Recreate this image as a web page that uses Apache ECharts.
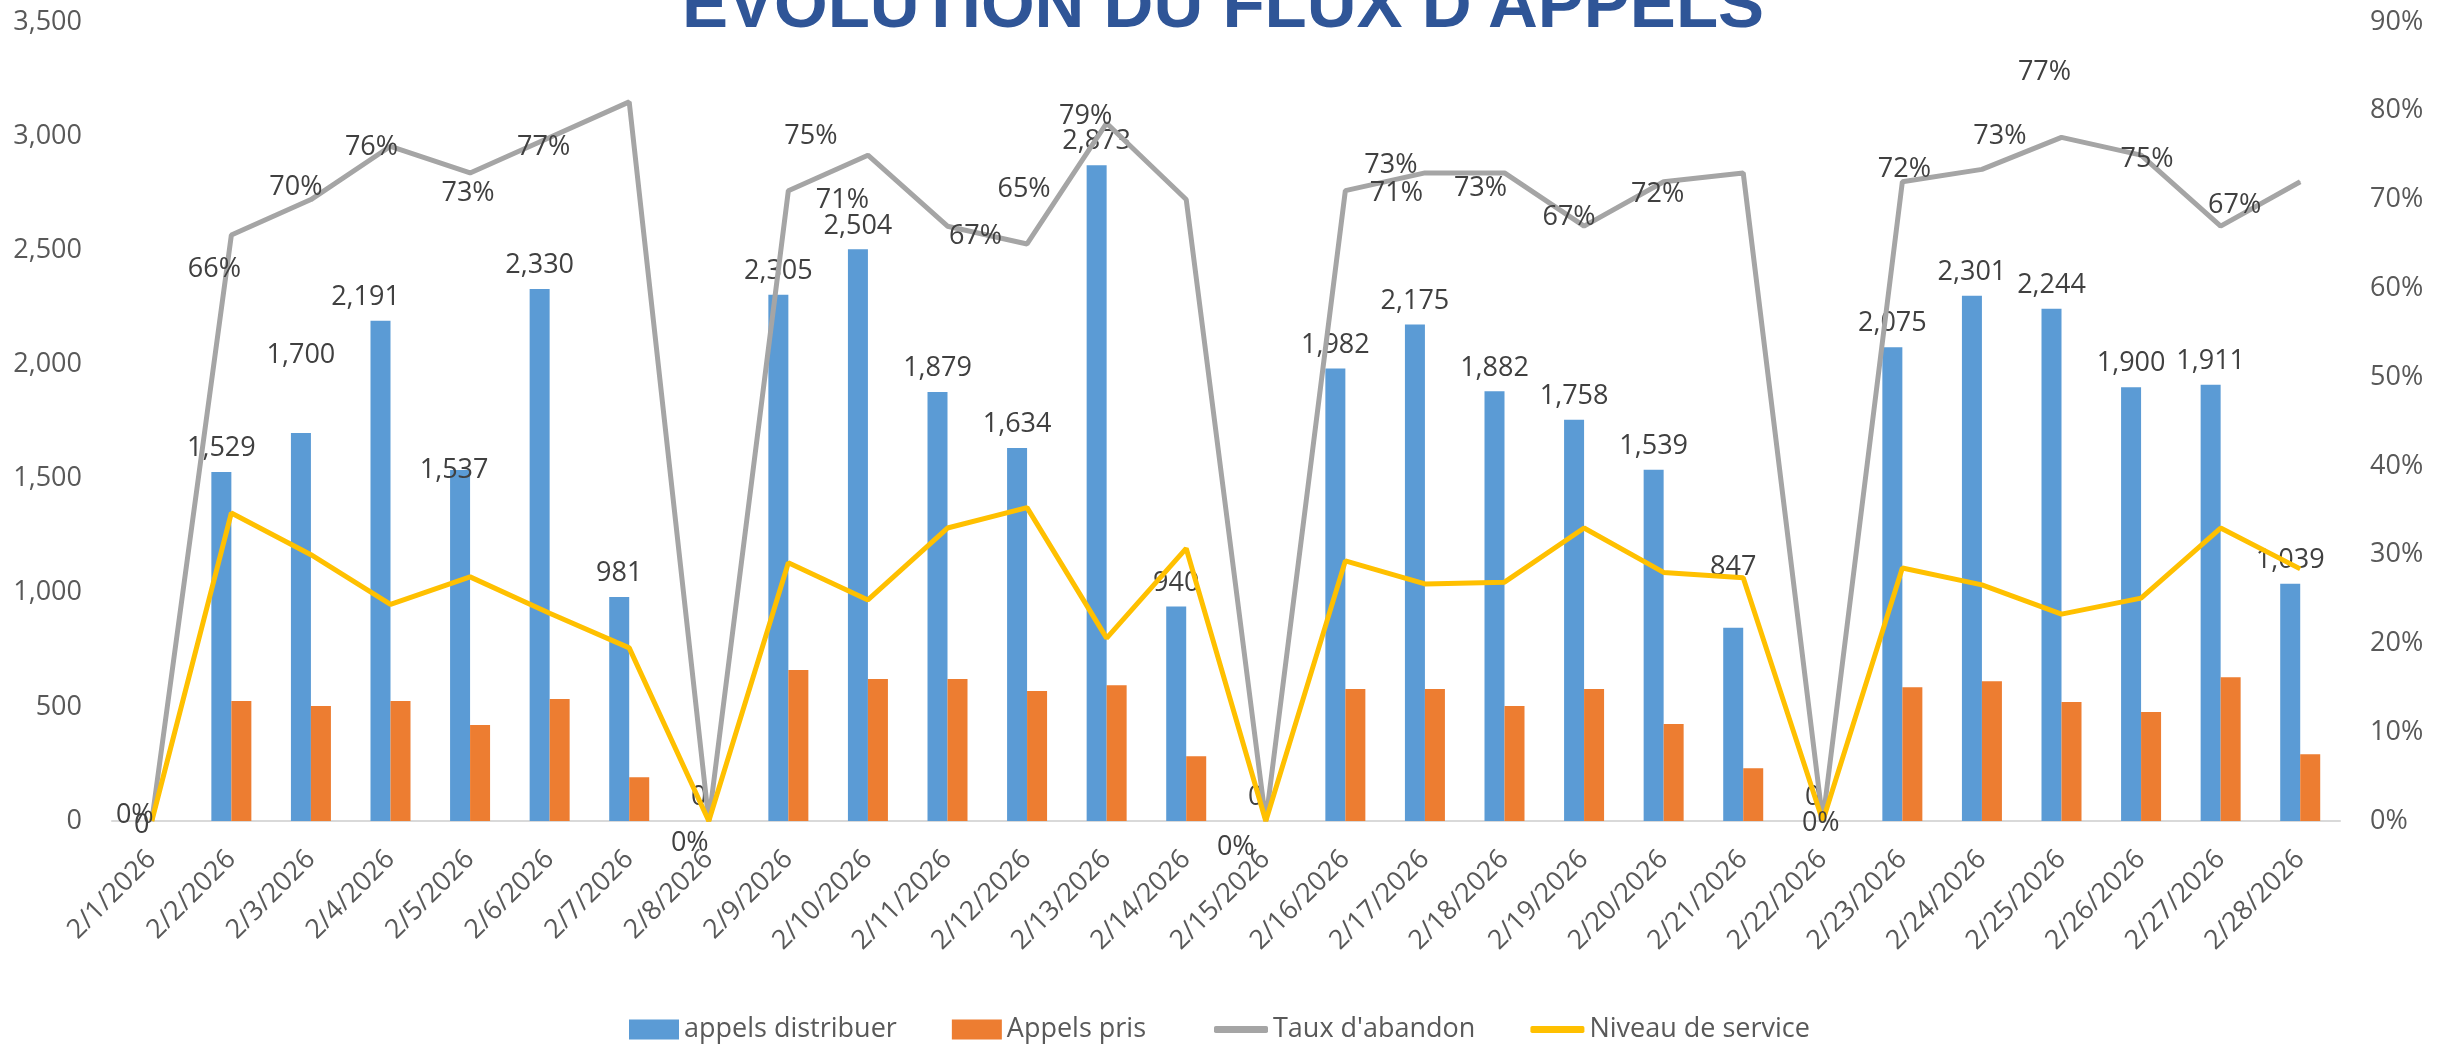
<!DOCTYPE html>
<html>
<head>
<meta charset="utf-8">
<title>Évolution du flux d'appels</title>
<script src="https://cdn.jsdelivr.net/npm/echarts@6/dist/echarts.min.js"></script>
<style>
html, body { margin: 0; padding: 0; background: #fff; }
#chart { width: 2446px; height: 1047px; }
</style>
</head>
<body>
<div id="chart"></div>
<script>
var days = ['2/1/2026', '2/2/2026', '2/3/2026', '2/4/2026', '2/5/2026', '2/6/2026', '2/7/2026',
    '2/8/2026', '2/9/2026', '2/10/2026', '2/11/2026', '2/12/2026', '2/13/2026', '2/14/2026',
    '2/15/2026', '2/16/2026', '2/17/2026', '2/18/2026', '2/19/2026', '2/20/2026', '2/21/2026',
    '2/22/2026', '2/23/2026', '2/24/2026', '2/25/2026', '2/26/2026', '2/27/2026', '2/28/2026'];

var appelsDistribues = [0, 1529, 1700, 2191, 1537, 2330, 981,
    0, 2305, 2504, 1879, 1634, 2873, 940,
    0, 1982, 2175, 1882, 1758, 1539, 847,
    0, 2075, 2301, 2244, 1900, 1911, 1039];

var appelsPris = [0, 526, 504, 526, 420, 534, 192,
    0, 661, 622, 622, 569, 595, 284,
    0, 578, 578, 504, 578, 425, 231,
    0, 586, 612, 521, 477, 630, 292];

var tauxAbandon = [0, 0.66, 0.70, 0.76, 0.73, 0.77, 0.81,
    0, 0.71, 0.75, 0.67, 0.65, 0.786, 0.70,
    0, 0.71, 0.73, 0.73, 0.67, 0.72, 0.73,
    0, 0.72, 0.734, 0.77, 0.75, 0.67, 0.72];

var niveauService = [0, 0.347, 0.300, 0.244, 0.275, 0.234, 0.195,
    0, 0.291, 0.249, 0.330, 0.353, 0.206, 0.307,
    0, 0.293, 0.267, 0.269, 0.330, 0.280, 0.274,
    0, 0.285, 0.266, 0.233, 0.251, 0.330, 0.284];

var leftMax = 3500, leftStep = 500;
var rightMax = 0.9, rightStep = 0.1;

// label placement, as moved by hand in the workbook
var barLabelShift = { 0: [0, 28], 2: [0, -54], 3: [-15, 0], 4: [-6, 24], 20: [0, -37] };
var rateLabelOffset = [[-17, -6], [-17, 34], [-15, -12], [-19, 1], [-2, 20], [-6, 10], null,
    [-19, 22], [54, 10], [-57, -19], [28, 10], [-3, -55], [-21, -7], null,
    [-30, 26], [51, 3], [-34, -8], [-24, 15], [-15, -9], [-6, 13], null,
    [-2, 2], [2, -12], [18, -33], [-17, -65], [6, 4], [14, -21], null];

function thousands(v) {
    return String(v).replace(/\B(?=(\d{3})+(?!\d))/g, ',');
}

var txt = '#595959';
var font = 'Open Sans';
var fs = 27;

var barData = appelsDistribues.map(function (v, i) {
    var item = { value: v };
    if (barLabelShift[i]) item.label = { offset: barLabelShift[i] };
    return item;
});

var rateData = tauxAbandon.map(function (v, i) {
    var off = rateLabelOffset[i];
    return {
        value: v,
        label: off ? { show: true, position: 'inside', offset: off } : { show: false }
    };
});

var myChart = echarts.init(document.getElementById('chart'));

var option = {
    animation: false,
    textStyle: { fontFamily: font },
    title: {
        text: 'ÉVOLUTION DU FLUX D\'APPELS',
        left: 'center',
        top: -32,
        textStyle: { fontSize: 69, fontWeight: 'bold', color: '#2F5597', fontFamily: 'Liberation Sans' }
    },
    legend: [
        {
            data: ['appels distribuer', 'Appels pris'],
            left: 624,
            top: 1011,
            icon: 'rect',
            itemWidth: 50,
            itemHeight: 20,
            itemGap: 55,
            textStyle: { fontSize: fs, color: txt, fontFamily: font }
        },
        {
            data: ['Taux d\'abandon', 'Niveau de service'],
            left: 1209,
            top: 1011,
            icon: 'roundRect',
            itemWidth: 54,
            itemHeight: 7,
            itemGap: 55,
            textStyle: { fontSize: fs, color: txt, fontFamily: font }
        }
    ],
    grid: { left: 112, right: 106, top: 22, bottom: 226 },
    xAxis: {
        type: 'category',
        data: days,
        axisLine: { lineStyle: { color: '#D9D9D9', width: 2 } },
        axisTick: { show: false },
        axisLabel: { rotate: 45, interval: 0, fontSize: fs, color: txt, margin: 34 }
    },
    yAxis: [
        {
            type: 'value',
            min: 0,
            max: leftMax,
            interval: leftStep,
            splitLine: { show: false },
            axisLine: { show: false },
            axisTick: { show: false },
            axisLabel: { fontSize: fs, color: txt, margin: 30, formatter: thousands }
        },
        {
            type: 'value',
            min: 0,
            max: rightMax,
            interval: rightStep,
            splitLine: { show: false },
            axisLine: { show: false },
            axisTick: { show: false },
            axisLabel: {
                fontSize: fs, color: txt, margin: 30,
                formatter: function (v) { return Math.round(v * 100) + '%'; }
            }
        }
    ],
    series: [
        {
            name: 'appels distribuer',
            type: 'bar',
            barWidth: 20,
            barGap: '0%',
            itemStyle: { color: '#5B9BD5' },
            label: {
                show: true,
                position: 'top',
                distance: 10,
                fontSize: fs,
                color: '#404040',
                formatter: function (p) { return thousands(p.value); }
            },
            data: barData
        },
        {
            name: 'Appels pris',
            type: 'bar',
            barWidth: 20,
            barGap: '0%',
            itemStyle: { color: '#ED7D31' },
            data: appelsPris
        },
        {
            name: 'Taux d\'abandon',
            type: 'line',
            yAxisIndex: 1,
            symbol: 'circle',
            symbolSize: 1,
            color: '#A5A5A5',
            lineStyle: { color: '#A5A5A5', width: 5 },
            label: {
                fontSize: fs,
                color: '#404040',
                formatter: function (p) { return Math.round(p.value * 100) + '%'; }
            },
            data: rateData
        },
        {
            name: 'Niveau de service',
            type: 'line',
            yAxisIndex: 1,
            symbol: 'none',
            color: '#FFC000',
            lineStyle: { color: '#FFC000', width: 5 },
            data: niveauService
        }
    ]
};
myChart.setOption(option);

window.onresize = function () {
    myChart.resize();
};
</script>
</body>
</html>
